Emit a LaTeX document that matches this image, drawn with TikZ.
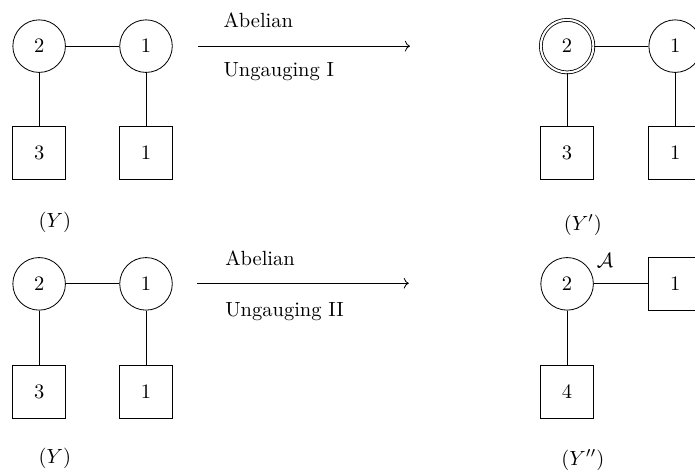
\documentclass[tikz,border=0pt]{standalone}
\usepackage{amsmath,amssymb}
\usetikzlibrary{arrows.meta,positioning}

\begin{document}
\begin{tikzpicture}[
  font=\normalsize,
  gauge/.style={draw, circle, minimum size=0.9cm, inner sep=0pt},
  flav/.style={draw, rectangle, minimum size=0.9cm, inner sep=0pt},
  arr/.style={->},
  lbl/.style={anchor=west, inner sep=0pt},
]
\useasboundingbox (0,0) rectangle (11.9,-8.08);
% top row: (Y)
\node[gauge] (a2) at (0.67,-0.79) {2};
\node[gauge] (a1) at (2.50,-0.79) {1};
\node[flav] (af3) at (0.67,-2.62) {3};
\node[flav] (af1) at (2.50,-2.62) {1};
\node (ay) at (0.94,-3.80) {$(Y)$};
\draw (a2) -- (a1);
\draw (a2) -- (af3);
\draw (a1) -- (af1);
% arrow I
\coordinate (s1) at (3.39,-0.79);
\coordinate (e1) at (7.02,-0.79);
\draw[arr] (s1) -- (e1);
\node[lbl] (ab1) at (3.82,-0.34) {Abelian};
\node[lbl] (un1) at (3.82,-1.23) {Ungauging I};
% top right: (Y')
\node[gauge, double, double distance=1pt] (b2) at (9.71,-0.79) {2};
\node[gauge] (b1) at (11.56,-0.79) {1};
\node[flav] (bf3) at (9.71,-2.62) {3};
\node[flav] (bf1) at (11.56,-2.62) {1};
\node (by) at (9.98,-3.85) {$(Y')$};
\draw (b2) -- (b1);
\draw (b2) -- (bf3);
\draw (b1) -- (bf1);
% bottom row: (Y)
\node[gauge] (c2) at (0.67,-4.86) {2};
\node[gauge] (c1) at (2.50,-4.86) {1};
\node[flav] (cf3) at (0.67,-6.71) {3};
\node[flav] (cf1) at (2.50,-6.71) {1};
\node (cy) at (0.94,-7.85) {$(Y)$};
\draw (c2) -- (c1);
\draw (c2) -- (cf3);
\draw (c1) -- (cf1);
% arrow II
\coordinate (s2) at (3.37,-4.85);
\coordinate (e2) at (7.00,-4.85);
\draw[arr] (s2) -- (e2);
\node[lbl] (ab2) at (3.85,-4.42) {Abelian};
\node[lbl] (un2) at (3.85,-5.34) {Ungauging II};
% bottom right: (Y'')
\node[gauge] (d2) at (9.71,-4.86) {2};
\node[flav] (df1) at (11.56,-4.86) {1};
\node[flav] (df4) at (9.71,-6.71) {4};
\node (da) at (10.36,-4.46) {$\mathcal{A}$};
\node (dy) at (9.98,-7.88) {$(Y'')$};
\draw (d2) -- (df1);
\draw (d2) -- (df4);
\end{tikzpicture}
\end{document}
